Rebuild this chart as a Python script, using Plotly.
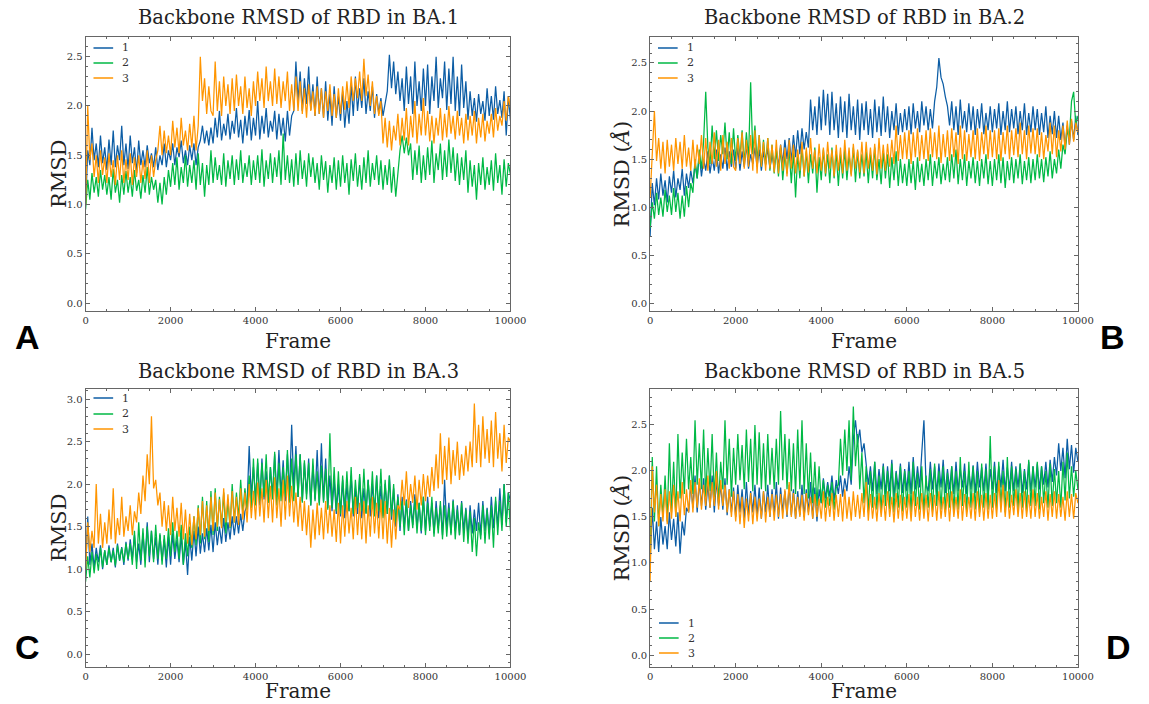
import plotly.graph_objects as go

frames = list(range(0, 10001, 50))
run_names = ["1", "2", "3"]
run_colors = ["#0C5DA5", "#00B945", "#FF9500"]

ba1_run1 = [1.00, 1.55, 1.40, 1.78, 1.45, 1.62, 1.38, 1.70, 1.42, 1.58,
            1.35, 1.66, 1.40, 1.75, 1.38, 1.60, 1.45, 1.80, 1.40, 1.62,
            1.36, 1.70, 1.42, 1.58, 1.32, 1.65, 1.40, 1.55, 1.38, 1.60,
            1.42, 1.52, 1.38, 1.58, 1.35, 1.50, 1.40, 1.62, 1.38, 1.55,
            1.45, 1.62, 1.40, 1.58, 1.48, 1.65, 1.42, 1.55, 1.40, 1.60,
            1.45, 1.62, 1.40, 1.58, 1.65, 1.80, 1.62, 1.75, 1.60, 1.78,
            1.62, 1.88, 1.68, 1.95, 1.65, 1.82, 1.70, 1.92, 1.66, 1.85,
            1.72, 1.98, 1.68, 1.86, 1.62, 1.90, 1.70, 1.96, 1.65, 1.88,
            1.70, 2.05, 1.66, 1.90, 1.72, 1.98, 1.68, 1.85, 1.74, 1.95,
            1.66, 1.92, 1.70, 1.88, 1.64, 1.95, 1.70, 1.90, 1.95, 2.45,
            2.05, 2.35, 1.95, 2.28, 2.02, 2.40, 1.96, 2.22, 1.90, 2.30,
            1.92, 2.18, 1.88, 2.25, 1.85, 2.12, 1.80, 2.20, 1.88, 2.10,
            1.85, 2.15, 1.78, 2.05, 1.82, 2.22, 1.90, 2.30, 1.95, 2.18,
            1.98, 2.28, 1.92, 2.15, 1.95, 2.20, 1.88, 2.12, 1.92, 2.08,
            1.90, 2.05, 2.15, 2.52, 2.18, 2.45, 2.12, 2.35, 2.05, 2.28,
            1.95, 2.40, 2.02, 2.30, 1.92, 2.45, 2.00, 2.25, 1.95, 2.38,
            2.00, 2.42, 1.92, 2.30, 2.05, 2.50, 1.98, 2.28, 2.08, 2.45,
            1.96, 2.38, 2.02, 2.50, 1.95, 2.30, 1.90, 2.42, 1.98, 2.25,
            1.86, 2.15, 1.90, 2.08, 1.84, 2.12, 1.92, 2.05, 1.85, 2.18,
            1.90, 2.10, 1.86, 2.20, 1.92, 2.06, 1.88, 2.15, 1.70, 2.10,
            1.85]
ba1_run2 = [0.95, 1.25, 1.05, 1.32, 1.12, 1.28, 1.08, 1.35, 1.15, 1.30,
            1.10, 1.28, 1.05, 1.36, 1.12, 1.25, 1.02, 1.30, 1.10, 1.34,
            1.12, 1.28, 1.08, 1.35, 1.14, 1.25, 1.06, 1.30, 1.12, 1.38,
            1.10, 1.28, 1.15, 1.25, 1.02, 1.22, 1.00, 1.28, 1.10, 1.35,
            1.18, 1.42, 1.20, 1.48, 1.15, 1.38, 1.22, 1.50, 1.18, 1.40,
            1.22, 1.45, 1.15, 1.52, 1.20, 1.42, 1.08, 1.40, 1.20, 1.55,
            1.22, 1.48, 1.25, 1.40, 1.20, 1.52, 1.18, 1.45, 1.26, 1.50,
            1.20, 1.46, 1.25, 1.55, 1.22, 1.42, 1.28, 1.50, 1.20, 1.45,
            1.25, 1.50, 1.22, 1.56, 1.18, 1.45, 1.26, 1.52, 1.22, 1.48,
            1.28, 1.55, 1.20, 1.72, 1.25, 1.50, 1.22, 1.46, 1.18, 1.52,
            1.20, 1.55, 1.26, 1.45, 1.18, 1.52, 1.28, 1.48, 1.22, 1.42,
            1.15, 1.50, 1.25, 1.44, 1.12, 1.40, 1.22, 1.48, 1.15, 1.45,
            1.18, 1.50, 1.22, 1.42, 1.10, 1.46, 1.24, 1.52, 1.18, 1.40,
            1.15, 1.48, 1.22, 1.55, 1.18, 1.42, 1.25, 1.50, 1.20, 1.45,
            1.15, 1.40, 1.20, 1.46, 1.12, 1.38, 1.08, 1.35, 1.55, 1.70,
            1.52, 1.68, 1.50, 1.62, 1.25, 1.55, 1.30, 1.60, 1.22, 1.50,
            1.25, 1.58, 1.30, 1.65, 1.22, 1.52, 1.35, 1.62, 1.25, 1.55,
            1.28, 1.66, 1.32, 1.58, 1.24, 1.52, 1.20, 1.48, 1.25, 1.55,
            1.12, 1.45, 1.18, 1.40, 1.05, 1.42, 1.20, 1.48, 1.15, 1.38,
            1.20, 1.45, 1.14, 1.52, 1.22, 1.40, 1.10, 1.46, 1.18, 1.42,
            1.30]
ba1_run3 = [1.00, 2.00, 1.45, 1.62, 1.28, 1.50, 1.22, 1.55, 1.30, 1.48,
            1.22, 1.52, 1.28, 1.45, 1.20, 1.50, 1.25, 1.55, 1.22, 1.46,
            1.25, 1.52, 1.20, 1.48, 1.28, 1.50, 1.22, 1.45, 1.26, 1.55,
            1.22, 1.50, 1.28, 1.45, 1.55, 1.80, 1.50, 1.75, 1.52, 1.70,
            1.50, 1.85, 1.58, 1.78, 1.52, 1.88, 1.60, 1.75, 1.55, 1.82,
            1.58, 1.90, 1.55, 1.80, 2.50, 2.05, 2.28, 1.92, 2.20, 1.95,
            1.90, 2.45, 1.95, 2.25, 1.90, 2.30, 2.00, 2.22, 1.92, 2.28,
            1.95, 2.32, 2.00, 2.20, 1.92, 2.30, 1.98, 2.18, 1.90, 2.25,
            2.00, 2.35, 2.05, 2.28, 1.98, 2.40, 2.05, 2.25, 2.00, 2.38,
            2.02, 2.30, 1.98, 2.25, 2.05, 2.35, 1.95, 2.22, 1.95, 2.30,
            1.95, 2.25, 1.92, 2.18, 1.88, 2.22, 1.95, 2.15, 1.90, 2.20,
            1.92, 2.18, 1.88, 2.15, 1.95, 2.22, 1.90, 2.12, 1.88, 2.18,
            1.92, 2.20, 1.96, 2.25, 1.98, 2.30, 2.05, 2.28, 2.08, 2.35,
            2.05, 2.48, 2.10, 2.32, 2.00, 2.25, 1.92, 2.10, 1.90, 2.05,
            1.62, 1.88, 1.58, 1.85, 1.55, 1.80, 1.65, 1.92, 1.60, 1.88,
            1.65, 1.98, 1.60, 1.90, 1.68, 2.05, 1.62, 1.92, 1.70, 2.08,
            1.70, 1.95, 1.64, 1.90, 1.62, 1.88, 1.70, 1.98, 1.65, 1.92,
            1.68, 2.00, 1.72, 1.90, 1.66, 1.95, 1.70, 1.88, 1.62, 1.92,
            1.65, 1.90, 1.70, 1.95, 1.62, 1.88, 1.68, 1.92, 1.64, 1.85,
            1.72, 1.92, 1.68, 1.98, 1.75, 1.90, 1.80, 2.05, 1.85, 2.10,
            1.98]

ba2_run1 = [0.70, 1.25, 1.02, 1.30, 1.08, 1.35, 1.12, 1.28, 1.05, 1.32,
            1.15, 1.38, 1.10, 1.30, 1.18, 1.40, 1.12, 1.35, 1.20, 1.38,
            1.25, 1.45, 1.30, 1.55, 1.32, 1.50, 1.38, 1.58, 1.35, 1.52,
            1.38, 1.60, 1.35, 1.55, 1.40, 1.62, 1.38, 1.58, 1.42, 1.60,
            1.40, 1.62, 1.38, 1.58, 1.42, 1.65, 1.40, 1.55, 1.45, 1.62,
            1.42, 1.60, 1.38, 1.58, 1.44, 1.62, 1.40, 1.55, 1.42, 1.60,
            1.42, 1.65, 1.45, 1.70, 1.50, 1.72, 1.48, 1.75, 1.52, 1.80,
            1.55, 1.82, 1.60, 1.78, 1.62, 2.12, 1.80, 2.05, 1.75, 2.15,
            1.80, 2.22, 1.85, 2.18, 1.75, 2.20, 1.80, 2.08, 1.72, 2.15,
            1.78, 2.10, 1.72, 2.18, 1.80, 2.05, 1.75, 2.12, 1.70, 2.08,
            1.80, 2.10, 1.75, 2.02, 1.72, 2.12, 1.78, 2.05, 1.74, 2.15,
            1.78, 2.05, 1.72, 2.00, 1.80, 2.08, 1.75, 1.98, 1.78, 2.02,
            1.80, 2.05, 1.76, 2.08, 1.82, 2.00, 1.78, 2.10, 1.85, 2.05,
            1.80, 2.02, 1.82, 2.10, 2.25, 2.55, 2.35, 2.28, 2.15, 2.05,
            1.85, 2.10, 1.80, 2.05, 1.75, 2.12, 1.82, 2.00, 1.78, 2.08,
            1.80, 2.05, 1.75, 2.02, 1.82, 2.08, 1.76, 1.98, 1.80, 2.05,
            1.78, 2.02, 1.82, 2.08, 1.75, 2.00, 1.80, 2.10, 1.78, 2.02,
            1.82, 2.05, 1.76, 2.00, 1.80, 2.08, 1.75, 1.98, 1.78, 2.05,
            1.80, 2.02, 1.75, 1.98, 1.78, 2.05, 1.72, 1.95, 1.76, 2.00,
            1.72, 1.95, 1.70, 1.88, 1.62, 1.85, 1.65, 1.90, 1.70, 1.95,
            1.75]
ba2_run2 = [0.78, 1.05, 0.88, 1.15, 0.92, 1.10, 0.90, 1.18, 0.95, 1.12,
            0.92, 1.20, 0.95, 1.15, 0.88, 1.12, 0.90, 1.22, 1.00, 1.25,
            1.15, 1.50, 1.30, 1.60, 1.40, 1.68, 2.20, 1.62, 1.45, 1.85,
            1.50, 1.80, 1.48, 1.75, 1.55, 1.88, 1.50, 1.78, 1.45, 1.82,
            1.48, 1.75, 1.52, 1.80, 1.45, 1.78, 1.50, 2.30, 1.55, 1.85,
            1.48, 1.75, 1.42, 1.70, 1.45, 1.72, 1.38, 1.65, 1.35, 1.60,
            1.32, 1.62, 1.28, 1.55, 1.35, 1.60, 1.25, 1.58, 1.10, 1.55,
            1.30, 1.62, 1.32, 1.58, 1.25, 1.55, 1.35, 1.62, 1.15, 1.52,
            1.28, 1.60, 1.32, 1.55, 1.25, 1.62, 1.30, 1.58, 1.22, 1.55,
            1.30, 1.60, 1.28, 1.55, 1.34, 1.62, 1.26, 1.58, 1.30, 1.55,
            1.32, 1.58, 1.25, 1.55, 1.30, 1.62, 1.28, 1.50, 1.24, 1.58,
            1.30, 1.55, 1.20, 1.52, 1.28, 1.58, 1.22, 1.50, 1.25, 1.45,
            1.22, 1.50, 1.25, 1.48, 1.18, 1.52, 1.26, 1.45, 1.22, 1.50,
            1.28, 1.55, 1.22, 1.48, 1.30, 1.52, 1.24, 1.45, 1.28, 1.52,
            1.26, 1.55, 1.30, 1.60, 1.24, 1.50, 1.28, 1.55, 1.22, 1.48,
            1.30, 1.52, 1.25, 1.48, 1.22, 1.50, 1.30, 1.55, 1.24, 1.48,
            1.22, 1.50, 1.28, 1.55, 1.25, 1.52, 1.20, 1.48, 1.28, 1.52,
            1.25, 1.50, 1.30, 1.55, 1.24, 1.48, 1.28, 1.52, 1.25, 1.50,
            1.28, 1.55, 1.30, 1.50, 1.26, 1.52, 1.32, 1.58, 1.30, 1.50,
            1.35, 1.60, 1.40, 1.65, 1.55, 1.80, 1.72, 2.10, 2.20, 1.85,
            1.95]
ba2_run3 = [1.10, 1.55, 2.00, 1.48, 1.72, 1.40, 1.68, 1.35, 1.70, 1.42,
            1.65, 1.38, 1.72, 1.45, 1.68, 1.40, 1.75, 1.42, 1.62, 1.38,
            1.70, 1.40, 1.65, 1.45, 1.75, 1.40, 1.72, 1.38, 1.68, 1.45,
            1.78, 1.42, 1.70, 1.38, 1.75, 1.45, 1.68, 1.40, 1.72, 1.42,
            1.38, 1.72, 1.45, 1.78, 1.40, 1.70, 1.42, 1.75, 1.38, 1.80,
            1.35, 1.75, 1.42, 1.68, 1.38, 1.72, 1.40, 1.65, 1.36, 1.70,
            1.35, 1.65, 1.38, 1.62, 1.32, 1.70, 1.40, 1.65, 1.35, 1.60,
            1.38, 1.68, 1.32, 1.62, 1.36, 1.72, 1.40, 1.60, 1.35, 1.66,
            1.38, 1.62, 1.35, 1.68, 1.40, 1.60, 1.32, 1.65, 1.38, 1.62,
            1.35, 1.70, 1.38, 1.62, 1.32, 1.66, 1.40, 1.60, 1.36, 1.68,
            1.35, 1.68, 1.40, 1.62, 1.38, 1.66, 1.34, 1.72, 1.40, 1.65,
            1.38, 1.66, 1.42, 1.70, 1.45, 1.85, 1.48, 1.75, 1.50, 1.78,
            1.50, 1.80, 1.45, 1.78, 1.52, 1.82, 1.48, 1.75, 1.50, 1.80,
            1.48, 1.82, 1.52, 1.78, 1.50, 1.85, 1.46, 1.76, 1.52, 1.80,
            1.48, 1.82, 1.52, 1.78, 1.45, 1.85, 1.50, 1.80, 1.48, 1.76,
            1.52, 1.80, 1.50, 1.82, 1.48, 1.78, 1.55, 1.85, 1.50, 1.80,
            1.52, 1.80, 1.50, 1.82, 1.48, 1.78, 1.55, 1.85, 1.50, 1.80,
            1.54, 1.82, 1.52, 1.88, 1.55, 1.80, 1.50, 1.85, 1.56, 1.82,
            1.55, 1.82, 1.52, 1.78, 1.50, 1.75, 1.58, 1.88, 1.55, 1.85,
            1.52, 1.80, 1.58, 1.85, 1.60, 1.90, 1.65, 1.92, 1.68, 1.88,
            1.78]

ba3_run1 = [1.00, 1.62, 1.05, 1.30, 1.02, 1.25, 1.08, 1.28, 1.00, 1.22,
            1.05, 1.28, 1.08, 1.25, 1.02, 1.30, 1.10, 1.26, 1.05, 1.32,
            1.10, 1.35, 1.12, 1.40, 1.08, 1.30, 1.05, 1.42, 1.10, 1.55,
            1.08, 1.45, 1.12, 1.38, 1.05, 1.40, 1.10, 1.35, 1.02, 1.38,
            1.05, 1.42, 1.12, 1.35, 1.08, 1.40, 1.05, 1.32, 0.93, 1.38,
            1.10, 1.45, 1.15, 1.50, 1.18, 1.42, 1.20, 1.48, 1.22, 1.52,
            1.20, 1.55, 1.28, 1.50, 1.30, 1.60, 1.32, 1.55, 1.35, 1.62,
            1.40, 1.62, 1.42, 1.65, 1.45, 1.68, 1.75, 2.45, 1.85, 2.20,
            1.80, 2.25, 1.75, 2.30, 1.82, 2.15, 1.78, 2.20, 1.85, 2.35,
            1.85, 2.40, 1.88, 2.28, 1.80, 2.35, 1.90, 2.70, 1.95, 2.45,
            1.85, 2.35, 1.80, 2.25, 1.88, 2.30, 1.75, 2.22, 1.82, 2.40,
            1.78, 2.48, 1.80, 2.30, 1.72, 2.10, 1.68, 2.05, 1.65, 2.00,
            1.62, 2.05, 1.60, 2.00, 1.68, 2.10, 1.62, 1.95, 1.65, 2.08,
            1.60, 1.95, 1.66, 2.05, 1.62, 2.00, 1.68, 2.10, 1.60, 1.98,
            1.62, 2.00, 1.65, 2.10, 1.58, 1.95, 1.50, 1.88, 1.45, 1.85,
            1.50, 1.82, 1.45, 1.80, 1.52, 1.88, 1.48, 1.78, 1.42, 1.85,
            1.45, 1.85, 1.50, 1.78, 1.42, 1.80, 1.48, 1.75, 1.40, 2.05,
            1.48, 1.78, 1.42, 1.82, 1.45, 1.75, 1.40, 1.80, 1.45, 1.72,
            1.38, 1.75, 1.42, 1.70, 1.45, 1.78, 1.40, 1.80, 1.45, 1.72,
            1.42, 1.85, 1.48, 1.80, 1.50, 1.95, 1.52, 2.00, 1.55, 1.90,
            1.80]
ba3_run2 = [0.85, 1.15, 0.90, 1.20, 0.95, 1.18, 0.98, 1.25, 1.02, 1.22,
            1.05, 1.25, 1.08, 1.22, 1.04, 1.28, 1.10, 1.25, 1.08, 1.30,
            1.12, 1.30, 1.05, 1.45, 1.00, 1.55, 1.10, 1.48, 1.02, 1.50,
            1.15, 1.45, 1.08, 1.52, 1.12, 1.42, 1.05, 1.40, 1.12, 1.48,
            1.15, 1.55, 1.20, 1.45, 1.12, 1.52, 1.05, 1.42, 1.15, 1.50,
            1.25, 1.62, 1.28, 1.75, 1.30, 1.85, 1.35, 1.80, 1.32, 1.92,
            1.40, 1.95, 1.45, 1.85, 1.50, 1.90, 1.42, 1.82, 1.48, 2.00,
            1.55, 1.90, 1.60, 2.05, 1.65, 1.95, 1.70, 2.10, 1.72, 2.30,
            1.75, 2.30, 1.80, 2.25, 1.85, 2.35, 1.78, 2.20, 1.82, 2.38,
            1.75, 2.25, 1.80, 2.20, 1.85, 2.40, 1.78, 2.30, 1.80, 2.35,
            1.85, 2.35, 1.78, 2.28, 1.82, 2.25, 1.75, 2.30, 1.80, 2.15,
            1.75, 2.22, 1.78, 2.18, 1.70, 2.60, 1.72, 2.20, 1.68, 2.15,
            1.65, 2.10, 1.70, 2.15, 1.68, 2.20, 1.65, 2.05, 1.72, 2.12,
            1.68, 2.18, 1.65, 2.05, 1.70, 2.15, 1.62, 2.10, 1.68, 2.18,
            1.60, 2.05, 1.65, 2.10, 1.62, 2.00, 1.55, 1.85, 1.50, 1.80,
            1.40, 1.80, 1.45, 1.75, 1.48, 1.82, 1.42, 1.78, 1.45, 1.85,
            1.40, 1.78, 1.45, 1.85, 1.38, 1.72, 1.42, 1.80, 1.35, 1.75,
            1.38, 1.72, 1.40, 1.80, 1.35, 1.70, 1.40, 1.78, 1.32, 1.70,
            1.30, 1.68, 1.20, 1.60, 1.15, 1.55, 1.35, 1.75, 1.30, 1.70,
            1.35, 1.75, 1.25, 1.85, 1.40, 1.80, 1.45, 2.00, 1.50, 1.90,
            1.45]
ba3_run3 = [1.00, 1.55, 1.20, 1.45, 1.25, 2.00, 1.30, 1.65, 1.25, 1.55,
            1.30, 1.70, 1.35, 1.95, 1.30, 1.60, 1.40, 1.85, 1.38, 1.62,
            1.45, 1.75, 1.40, 1.68, 1.55, 1.90, 1.65, 2.10, 1.80, 2.35,
            2.00, 2.80, 1.95, 2.05, 1.75, 1.90, 1.50, 1.80, 1.45, 1.75,
            1.40, 1.85, 1.45, 1.72, 1.38, 1.78, 1.35, 1.70, 1.30, 1.65,
            1.28, 1.62, 1.35, 1.72, 1.40, 1.80, 1.38, 1.75, 1.45, 1.85,
            1.45, 1.90, 1.50, 1.82, 1.48, 1.95, 1.55, 1.88, 1.50, 1.92,
            1.55, 1.85, 1.52, 1.95, 1.58, 1.90, 1.55, 2.00, 1.60, 1.92,
            1.58, 2.02, 1.62, 1.95, 1.55, 2.05, 1.60, 1.98, 1.55, 2.08,
            1.60, 1.95, 1.50, 2.05, 1.58, 2.10, 1.62, 1.98, 1.55, 1.90,
            1.50, 1.85, 1.45, 1.80, 1.40, 1.75, 1.25, 1.70, 1.35, 1.78,
            1.40, 1.72, 1.35, 1.80, 1.42, 1.75, 1.38, 1.70, 1.32, 1.78,
            1.30, 1.75, 1.38, 1.80, 1.42, 1.72, 1.35, 1.85, 1.40, 1.78,
            1.35, 1.80, 1.30, 1.75, 1.38, 1.85, 1.42, 1.78, 1.36, 1.82,
            1.35, 1.80, 1.30, 1.72, 1.25, 1.70, 1.35, 1.75, 1.70, 2.05,
            1.75, 2.15, 1.72, 2.00, 1.78, 2.10, 1.70, 2.05, 1.75, 2.12,
            1.80, 2.10, 1.85, 2.20, 1.92, 2.35, 1.95, 2.60, 2.00, 2.45,
            2.05, 2.55, 2.00, 2.40, 2.10, 2.50, 2.05, 2.35, 2.10, 2.45,
            2.15, 2.50, 2.20, 2.95, 2.25, 2.70, 2.20, 2.80, 2.30, 2.65,
            2.25, 2.75, 2.20, 2.85, 2.30, 2.60, 2.15, 2.70, 2.25, 2.55,
            2.50]

ba5_run1 = [1.00, 1.60, 1.15, 1.45, 1.12, 1.50, 1.20, 1.40, 1.15, 1.55,
            1.25, 1.48, 1.18, 1.55, 1.10, 1.45, 1.30, 1.60, 1.55, 1.85,
            1.60, 1.95, 1.55, 1.88, 1.62, 1.92, 1.58, 1.85, 1.60, 1.95,
            1.55, 1.90, 1.62, 1.85, 1.58, 1.92, 1.52, 1.80, 1.55, 1.82,
            1.50, 1.85, 1.55, 1.80, 1.48, 1.88, 1.52, 1.78, 1.55, 1.85,
            1.50, 1.82, 1.48, 1.78, 1.55, 1.85, 1.50, 1.80, 1.52, 1.88,
            1.48, 1.82, 1.55, 1.78, 1.50, 1.85, 1.52, 1.80, 1.48, 1.78,
            1.52, 1.85, 1.50, 1.80, 1.55, 1.88, 1.48, 1.82, 1.45, 1.80,
            1.65, 1.92, 1.70, 1.88, 1.72, 1.95, 1.68, 1.90, 1.75, 1.95,
            1.72, 1.92, 1.78, 2.05, 1.85, 2.35, 2.55, 2.30, 2.45, 2.20,
            2.30, 2.10, 1.85, 2.05, 1.78, 2.10, 1.75, 2.02, 1.80, 2.08,
            1.75, 2.05, 1.78, 2.12, 1.72, 2.00, 1.80, 2.08, 1.76, 2.02,
            1.78, 2.10, 1.75, 2.15, 1.80, 2.05, 1.82, 2.20, 2.55, 1.85,
            1.78, 2.10, 1.80, 2.05, 1.75, 2.08, 1.82, 2.12, 1.76, 2.02,
            1.80, 2.05, 1.75, 2.10, 1.78, 2.02, 1.82, 2.08, 1.75, 2.00,
            1.80, 2.06, 1.76, 2.10, 1.82, 2.04, 1.78, 2.08, 1.74, 2.02,
            1.80, 2.10, 1.76, 2.05, 1.82, 2.12, 1.78, 2.04, 1.80, 2.10,
            1.78, 2.05, 1.82, 2.08, 1.76, 2.02, 1.80, 2.10, 1.78, 2.05,
            1.82, 2.08, 1.80, 2.05, 1.85, 2.10, 1.82, 2.12, 1.88, 2.15,
            1.95, 2.30, 2.00, 2.25, 1.92, 2.35, 2.02, 2.28, 1.98, 2.25,
            2.10]
ba5_run2 = [1.00, 2.15, 1.45, 2.05, 1.40, 1.85, 1.50, 1.95, 1.45, 2.30,
            1.55, 2.10, 1.50, 2.40, 1.70, 2.20, 1.75, 2.35, 1.80, 2.15,
            1.75, 2.55, 1.85, 2.30, 1.80, 2.45, 1.72, 2.25, 1.78, 2.40,
            1.70, 2.20, 1.65, 2.10, 1.80, 2.55, 1.85, 2.35, 1.72, 2.25,
            1.85, 2.40, 1.90, 2.28, 1.80, 2.45, 1.88, 2.35, 1.78, 2.50,
            1.85, 2.42, 1.80, 2.30, 1.78, 2.40, 1.85, 2.25, 1.80, 2.35,
            1.85, 2.65, 1.90, 2.40, 1.80, 2.35, 1.78, 2.30, 1.75, 2.45,
            1.80, 2.55, 1.75, 2.30, 1.70, 2.20, 1.65, 2.10, 1.62, 2.05,
            1.65, 1.90, 1.60, 1.85, 1.62, 1.88, 1.58, 1.82, 1.85, 2.35,
            1.95, 2.45, 2.00, 2.55, 1.90, 2.70, 2.05, 2.40, 1.80, 2.20,
            1.65, 2.05, 1.55, 2.00, 1.60, 2.10, 1.58, 1.95, 1.55, 2.05,
            1.62, 2.00, 1.58, 2.08, 1.55, 1.98, 1.60, 2.05, 1.56, 2.00,
            1.60, 2.00, 1.55, 2.10, 1.62, 1.98, 1.58, 2.05, 1.55, 1.95,
            1.60, 2.02, 1.56, 2.08, 1.62, 2.00, 1.58, 2.05, 1.55, 1.98,
            1.60, 2.05, 1.55, 2.00, 1.58, 2.15, 1.62, 2.00, 1.56, 2.10,
            1.60, 2.05, 1.58, 2.00, 1.55, 2.08, 1.60, 2.02, 1.58, 2.38,
            1.60, 2.05, 1.58, 2.10, 1.62, 2.00, 1.55, 2.15, 1.60, 2.05,
            1.62, 2.02, 1.58, 2.08, 1.60, 2.00, 1.56, 2.12, 1.62, 2.05,
            1.62, 2.10, 1.58, 2.05, 1.65, 2.00, 1.60, 2.08, 1.62, 2.02,
            1.65, 2.00, 1.60, 2.10, 1.68, 2.20, 1.70, 2.05, 1.72, 2.00,
            1.80]
ba5_run3 = [0.80, 2.05, 1.55, 1.85, 1.40, 1.75, 1.45, 1.80, 1.42, 1.78,
            1.48, 1.85, 1.50, 1.78, 1.45, 1.88, 1.52, 1.80, 1.55, 1.90,
            1.55, 1.88, 1.60, 1.92, 1.58, 1.85, 1.62, 1.95, 1.60, 1.88,
            1.62, 2.00, 1.58, 1.90, 1.62, 1.85, 1.55, 1.80, 1.50, 1.78,
            1.45, 1.75, 1.42, 1.72, 1.38, 1.70, 1.45, 1.76, 1.42, 1.72,
            1.45, 1.70, 1.48, 1.78, 1.44, 1.72, 1.50, 1.75, 1.46, 1.74,
            1.50, 1.75, 1.48, 1.80, 1.52, 1.88, 1.50, 1.76, 1.48, 1.72,
            1.50, 1.74, 1.46, 1.76, 1.52, 1.72, 1.48, 1.75, 1.50, 1.70,
            1.48, 1.78, 1.45, 1.72, 1.50, 1.76, 1.46, 1.74, 1.50, 1.75,
            1.45, 1.80, 1.48, 1.72, 1.46, 1.78, 1.50, 1.74, 1.48, 1.76,
            1.50, 1.88, 1.46, 1.75, 1.48, 1.72, 1.45, 1.76, 1.50, 1.74,
            1.46, 1.78, 1.50, 1.72, 1.44, 1.76, 1.48, 1.74, 1.46, 1.72,
            1.48, 1.75, 1.45, 1.78, 1.50, 1.72, 1.46, 1.76, 1.48, 1.74,
            1.45, 1.76, 1.50, 1.74, 1.46, 1.78, 1.48, 1.72, 1.50, 1.76,
            1.45, 1.78, 1.50, 1.72, 1.48, 1.80, 1.46, 1.75, 1.50, 1.72,
            1.48, 1.76, 1.46, 1.78, 1.50, 1.74, 1.46, 1.76, 1.48, 1.74,
            1.48, 1.76, 1.50, 1.90, 1.55, 1.85, 1.50, 1.78, 1.48, 1.74,
            1.52, 1.80, 1.50, 1.76, 1.48, 1.78, 1.50, 1.74, 1.48, 1.80,
            1.50, 1.76, 1.48, 1.72, 1.50, 1.78, 1.46, 1.75, 1.50, 1.78,
            1.48, 1.75, 1.50, 1.72, 1.46, 1.78, 1.50, 1.75, 1.48, 1.76,
            1.65]

panel_titles = ["Backbone RMSD of RBD in BA.1", "Backbone RMSD of RBD in BA.2",
                "Backbone RMSD of RBD in BA.3", "Backbone RMSD of RBD in BA.5"]
panel_ylabels = ["RMSD", "RMSD (<i>Å</i>)", "RMSD", "RMSD (<i>Å</i>)"]
panel_letters = ["A", "B", "C", "D"]
panel_series = [[ba1_run1, ba1_run2, ba1_run3],
                [ba2_run1, ba2_run2, ba2_run3],
                [ba3_run1, ba3_run2, ba3_run3],
                [ba5_run1, ba5_run2, ba5_run3]]
x_label = "Frame"
x_tickvals = [0, 2000, 4000, 6000, 8000, 10000]

# ---------------- layout / styling ----------------
W, H = 1149, 704
SERIF = "DejaVu Serif"
AXCOL = "#666666"
TXT = "#222222"

def px_x(v):
    return v / W

def px_y(v):
    return 1 - v / H

# plot-area boxes in pixels: (left, right, top, bottom)
boxes = [(84, 516, 37, 311), (658, 1093, 37, 311),
         (84, 516, 389, 667), (658, 1093, 389, 667)]
y_ranges = [[-0.08, 2.70], [-0.08, 2.77], [-0.153, 3.12], [-0.13, 2.89]]
title_y = [18, 18, 371, 371]
xlabel_y = [341, 341, 691, 691]
ylabel_x = [57, 628, 57, 628]
letter_pos = [(25, 337), (1128, 337), (25, 647), (1134, 647)]
# manual legend: (line x0, line x1, text x, [row y's])
legend_specs = [(92, 112, 119, [48, 63, 78]),
                (666, 686, 693, [48, 63, 78]),
                (92, 112, 119, [398, 414, 429]),
                (667, 687, 694, [623, 638, 653])]

fig = go.Figure()
annotations = []
shapes = []
layout_kw = {}

for i in range(4):
    xa = "x" if i == 0 else f"x{i+1}"
    ya = "y" if i == 0 else f"y{i+1}"
    for k in range(3):
        fig.add_trace(go.Scatter(
            x=frames, y=panel_series[i][k], mode="lines", name=run_names[k],
            line=dict(color=run_colors[k], width=1.25),
            xaxis=xa, yaxis=ya, showlegend=False))

    left, right, top, bottom = boxes[i]
    axis_common = dict(showline=True, linecolor=AXCOL, linewidth=1, mirror="ticks",
                       ticks="inside", ticklen=4, tickwidth=0.8, tickcolor=AXCOL,
                       showgrid=False, zeroline=False,
                       tickfont=dict(family=SERIF, size=10, color="#333333"))
    xkey = "xaxis" if i == 0 else f"xaxis{i+1}"
    ykey = "yaxis" if i == 0 else f"yaxis{i+1}"
    layout_kw[xkey] = dict(axis_common, domain=[px_x(left), px_x(right)], anchor=ya,
                           range=[0, 10000], tickvals=x_tickvals, tickformat="d",
                           minor=dict(ticks="inside", ticklen=2, tickcolor=AXCOL, dtick=500, tick0=0))
    layout_kw[ykey] = dict(axis_common, domain=[px_y(bottom), px_y(top)], anchor=xa,
                           range=y_ranges[i], dtick=0.5, tick0=0, tickformat=".1f",
                           minor=dict(ticks="inside", ticklen=2, tickcolor=AXCOL, dtick=0.1, tick0=0))

    x0, x1, tx, rows = legend_specs[i]
    for k in range(3):
        shapes.append(dict(type="line", xref="paper", yref="paper",
                           x0=px_x(x0), x1=px_x(x1), y0=px_y(rows[k]), y1=px_y(rows[k]),
                           line=dict(color=run_colors[k], width=1.5)))
        annotations.append(dict(text=run_names[k], x=px_x(tx), y=px_y(rows[k]),
                                xref="paper", yref="paper", showarrow=False,
                                xanchor="left", yanchor="middle",
                                font=dict(family=SERIF, size=11, color="#333333")))

    annotations.append(dict(text=panel_titles[i], x=px_x((left + right) / 2), y=px_y(title_y[i]),
                            xref="paper", yref="paper", showarrow=False,
                            xanchor="center", yanchor="middle",
                            font=dict(family=SERIF, size=19.5, color=TXT)))
    annotations.append(dict(text=x_label, x=px_x((left + right) / 2), y=px_y(xlabel_y[i]),
                            xref="paper", yref="paper", showarrow=False,
                            xanchor="center", yanchor="middle",
                            font=dict(family=SERIF, size=20, color=TXT)))
    annotations.append(dict(text=panel_ylabels[i], x=px_x(ylabel_x[i]), y=px_y((top + bottom) / 2),
                            xref="paper", yref="paper", showarrow=False, textangle=-90,
                            xanchor="center", yanchor="middle",
                            font=dict(family=SERIF, size=21, color=TXT)))
    lxp, lyp = letter_pos[i]
    annotations.append(dict(text="<b>" + panel_letters[i] + "</b>", x=px_x(lxp), y=px_y(lyp),
                            xref="paper", yref="paper", showarrow=False,
                            xanchor="center", yanchor="middle",
                            font=dict(family="Liberation Sans", size=34, color="#000000")))

fig.update_layout(width=W, height=H, margin=dict(l=0, r=0, t=0, b=0),
                  paper_bgcolor="white", plot_bgcolor="white",
                  annotations=annotations, shapes=shapes, **layout_kw)

fig.write_html("out.html", config={"displayModeBar": False},
               post_script="document.body.style.margin='0px';")
